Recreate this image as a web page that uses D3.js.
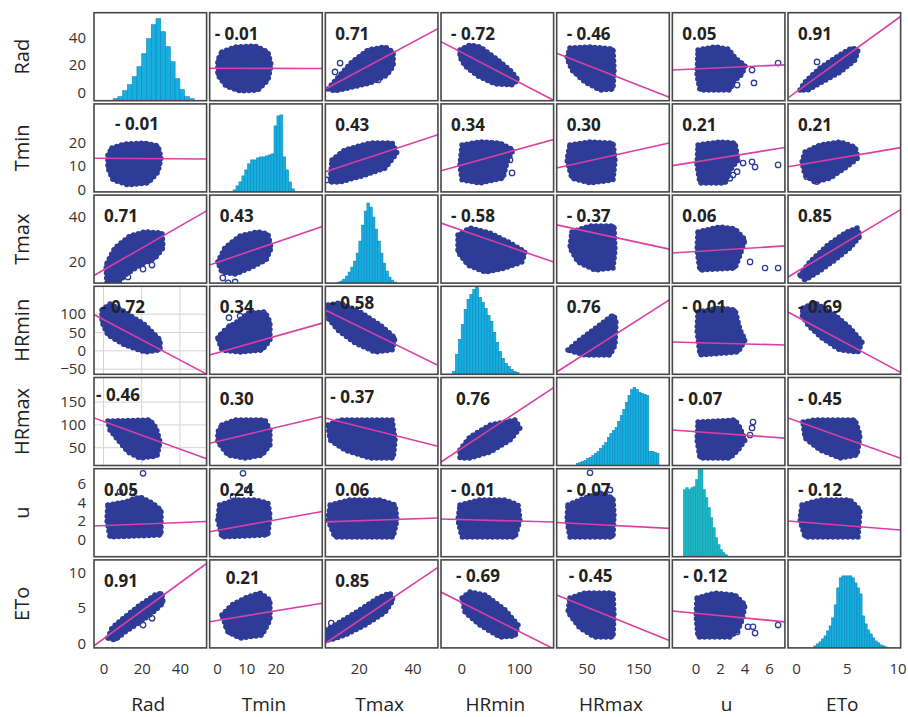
<!DOCTYPE html>
<html>
<head>
<meta charset="utf-8">
<script src="https://cdn.jsdelivr.net/npm/d3@7"></script>
<style>
  body { margin: 0; background: #fff; }
  svg { font-family: "Open Sans", sans-serif; }
</style>
</head>
<body>
<div id="chart"></div>
<script>
// variables of the matrix
var vars = ["Rad", "Tmin", "Tmax", "HRmin", "HRmax", "u", "ETo"];

// axis ranges (columns use x, rows use y)
var xDomains = [[-5, 54], [-2.5, 36], [7.5, 49.5], [-35, 160], [-8, 210], [-1.9, 7.3], [-0.8, 10.3]];
var yDomains = [[-6, 58], [-1, 36.5], [10.5, 49.5], [-64, 176], [11, 204], [-1.8, 7.6], [-0.6, 11.8]];
var xTicks = [[0, 20, 40], [0, 10, 20], [20, 40], [0, 100], [50, 150], [0, 2, 4, 6], [0, 5, 10]];
var yTicks = [[0, 20, 40], [0, 10, 20], [20, 40], [-50, 0, 50, 100], [50, 100, 150], [0, 2, 4, 6], [0, 5, 10]];

// correlation coefficients printed in each panel
var corr = [
    [null, -0.01, 0.71, -0.72, -0.46, 0.05, 0.91],
    [-0.01, null, 0.43, 0.34, 0.30, 0.21, 0.21],
    [0.71, 0.43, null, -0.58, -0.37, 0.06, 0.85],
    [-0.72, 0.34, -0.58, null, 0.76, -0.01, -0.69],
    [-0.46, 0.30, -0.37, 0.76, null, -0.07, -0.45],
    [0.05, 0.24, 0.06, -0.01, -0.07, null, -0.12],
    [0.91, 0.21, 0.85, -0.69, -0.45, -0.12, null]
];

// histograms on the diagonal: first bin edge, bin width, frequencies
var histStart = [5, 5.5, 12, -15, 30, -1.0, 1.75];
var histWidth = [2.5, 1, 1, 5, 5, 0.2, 0.25];
var histRad = [2, 4, 10, 16, 24, 34, 47, 62, 76, 82, 69, 54, 39, 22, 11, 4, 2];
var histTmin = [2, 6, 10, 16, 22, 28, 32, 32, 34, 35, 35, 36, 37, 38, 66, 76, 77, 35, 22, 10, 3];
var histTmax = [1, 2, 4, 7, 11, 16, 22, 30, 42, 58, 72, 80, 76, 66, 54, 42, 30, 20, 12, 6, 3, 1];
var histHRmin = [3, 20, 35, 50, 65, 75, 80, 85, 87, 77, 72, 66, 59, 53, 42, 32, 23, 16, 11, 8, 5, 3, 2];
var histHRmax = [2, 3, 4, 5, 7, 8, 10, 12, 14, 17, 20, 23, 28, 32, 35, 38, 44, 50, 56, 63, 70, 76, 78, 76, 73, 72, 71, 70, 14, 14, 13, 12];
var histU = [67, 69, 67, 69, 70, 77, 87, 87, 67, 59, 49, 39, 29, 19, 12, 7, 4, 2];
var histETo = [2, 4, 6, 9, 12, 17, 22, 30, 43, 60, 70, 72, 72, 72, 72, 70, 65, 60, 54, 32, 24, 18, 14, 10, 7, 5, 3, 2, 1];
var hists = [histRad, histTmin, histTmax, histHRmin, histHRmax, histU, histETo];

// outline of each point cloud (x value, y value), one array per row
var cloudsRad = [null,
    [[1.7, 29.4], [6.2, 33.1], [13.0, 33.8], [17.4, 29.4], [18.5, 20.0], [17.4, 9.1], [14.0, 1.8], [7.9, 1.1], [3.1, 4.7], [0.3, 12.7], [0.3, 23.6]],
    [[8.5, 2.5], [13.0, 12.7], [17.5, 22.2], [23.4, 30.9], [29.8, 33.1], [32.8, 29.4], [32.8, 19.3], [30.5, 12.7], [24.2, 6.9], [17.8, 4.0], [11.1, 1.1]],
    [[-2.1, 30.9], [15.2, 34.5], [32.5, 33.1], [58.5, 25.1], [84.5, 16.3], [98.4, 9.1], [88.0, 5.5], [58.5, 6.2], [29.1, 12.0], [6.6, 19.3], [-2.1, 25.8]],
    [[17.7, 32.3], [56.5, 33.1], [101, 31.6], [103, 16.3], [101, 2.5], [75.8, 1.8], [46.8, 7.6], [21.6, 16.3], [12, 25.1]],
    [[0.2, 30.9], [1.59, 33.1], [2.65, 31.6], [3.22, 25.1], [4.04, 19.3], [3.79, 13.4], [3.06, 7.6], [2.81, 1.8], [0.36, 1.8], [0.12, 12.7]],
    [[0.38, 1.8], [0.88, 7.6], [2.36, 17.8], [4.13, 26.5], [5.51, 32.3], [6.1, 30.9], [5.81, 23.6], [4.33, 14.9], [2.55, 7.6], [1.17, 1.8]]
];
var cloudsTmin = [
    [[4.4, 17.7], [11.2, 19.4], [21.7, 19.8], [28.5, 18.6], [30.1, 13.5], [28.5, 7.5], [23.3, 2.8], [12.8, 2.0], [5.0, 4.1], [2.3, 9.2], [2.3, 14.7]],
    null,
    [[10.0, 12.6], [14.8, 16.9], [24.2, 19.8], [32.4, 19.8], [34.2, 15.6], [29.8, 9.2], [22.3, 6.2], [13.0, 3.2], [9.3, 3.2]],
    [[1.4, 19.0], [32.5, 20.3], [67.2, 19.8], [89.7, 16.9], [79.3, 11.8], [72.4, 4.9], [32.5, 2.8], [1.4, 4.1], [-2.1, 10.5]],
    [[17.7, 19.0], [56.5, 20.3], [101, 19.8], [104.9, 12.6], [101, 4.1], [56.5, 2.8], [21.6, 4.9], [12, 12.6]],
    [[0.2, 19.0], [2.0, 20.3], [3.22, 19.8], [3.47, 12.6], [2.81, 8.3], [2.4, 2.8], [0.36, 2.8], [0.12, 10.5]],
    [[0.88, 16.0], [2.36, 19.0], [4.33, 20.3], [5.81, 18.1], [6.1, 13.5], [4.82, 9.2], [3.34, 4.9], [1.86, 3.2], [0.88, 6.2], [0.58, 11.7]]
];
var cloudsTmax = [
    [[1.8, 10.6], [1.3, 18.5], [6.0, 26.1], [13.9, 31.4], [21.7, 33.2], [30.6, 32.7], [31.2, 26.1], [27.0, 21.6], [19.1, 18.5], [11.2, 14.1], [7.6, 10.6]],
    [[0.3, 19.9], [2.7, 26.1], [7.9, 31.4], [14.0, 33.2], [17.4, 32.3], [18.5, 26.1], [16.8, 20.8], [11.3, 17.2], [6.2, 14.5], [1.7, 15.4]],
    null,
    [[-5.6, 31.8], [15.2, 34.9], [49.9, 32.7], [84.5, 28.3], [110.5, 24.3], [105.3, 19.9], [75.8, 17.2], [41.2, 15.4], [11.8, 18.5], [-5.6, 24.3]],
    [[21.6, 33.2], [56.5, 35.8], [102.9, 35.8], [104.9, 25.2], [101, 17.2], [66.2, 16.3], [33.2, 19.9], [17.7, 26.1]],
    [[0.2, 33.2], [2.0, 35.4], [3.22, 34.5], [4.04, 29.6], [3.63, 23.0], [3.22, 17.2], [0.36, 16.3], [0.12, 25.2]],
    [[0.38, 14.1], [1.37, 19.9], [3.14, 27.4], [4.82, 32.7], [6.0, 34.9], [6.3, 31.4], [5.31, 26.1], [3.83, 20.8], [2.16, 15.4], [0.88, 11.9]]
];
var cloudsHRmin = [
    [[-0.8, 111.4], [3.4, 127.7], [11.2, 105.9], [21.7, 70.5], [29.6, 29.6], [29.6, 2.3], [21.7, -3.1], [11.2, 16.0], [2.3, 43.2], [-0.8, 78.6]],
    [[0.3, 35.0], [2.7, 56.8], [7.9, 84.1], [10.6, 103.2], [16.4, 105.9], [18.1, 78.6], [18.1, 29.6], [15.4, 2.3], [7.9, -3.1], [1.7, 2.3]],
    [[8.5, 125.0], [13.0, 130.5], [20.4, 105.9], [27.9, 70.5], [33.5, 35.0], [32.4, 2.3], [26.0, -3.1], [18.6, 21.4], [12.2, 56.8], [8.5, 89.6]],
    null,
    [[13.9, 2.3], [37.1, 29.6], [75.8, 70.5], [101, 97.7], [106.8, 84.1], [104.9, 16.0], [95.2, -11.3], [46.8, -11.3]],
    [[0.2, 105.9], [2.0, 116.8], [3.22, 111.4], [3.63, 56.8], [4.04, 29.6], [3.47, -3.1], [0.36, -11.3], [0.12, 56.8]],
    [[0.68, 116.8], [1.86, 130.5], [3.83, 97.7], [5.31, 62.3], [6.5, 24.1], [6.1, -3.1], [4.33, 2.3], [2.55, 35.0], [1.17, 70.5], [0.58, 97.7]]
];
var cloudsHRmax = [
    [[2.3, 108.6], [24.3, 110.8], [27.5, 93.3], [29.6, 62.6], [28.0, 31.8], [19.1, 27.4], [12.8, 40.6], [7.6, 67.0], [3.4, 88.9]],
    [[1.7, 99.8], [6.2, 110.8], [16.4, 110.8], [18.1, 88.9], [18.1, 56.0], [15.4, 34.0], [9.6, 27.4], [3.8, 34.0], [0.3, 62.6], [0.3, 84.5]],
    [[8.5, 99.8], [13.0, 110.8], [32.4, 110.8], [33.5, 67.0], [32.8, 27.4], [24.2, 27.4], [14.8, 45.0], [9.3, 67.0]],
    [[-2.1, 45.0], [15.2, 73.5], [49.9, 99.8], [93.2, 110.8], [101.8, 93.3], [84.5, 67.0], [49.9, 40.6], [15.2, 27.4], [-2.1, 27.4]],
    null,
    [[0.2, 106.4], [3.22, 110.8], [3.63, 93.3], [4.04, 67.0], [3.47, 45.0], [2.81, 27.4], [0.36, 27.4], [0.12, 67.0]],
    [[0.68, 106.4], [1.86, 110.8], [5.81, 110.8], [6.3, 77.9], [6.0, 34.0], [4.33, 27.4], [2.36, 45.0], [0.88, 71.3]]
];
var cloudsU = [
    [[2.3, 3.72], [11.2, 4.04], [19.1, 4.58], [25.4, 3.94], [30.1, 3.19], [30.1, 0.52], [3.4, 0.31], [1.8, 2.12]],
    [[0.9, 3.72], [6.2, 4.26], [13.0, 4.26], [17.4, 3.94], [18.1, 2.66], [17.4, 0.52], [1.7, 0.31], [0.3, 2.12]],
    [[9.3, 3.72], [16.7, 4.26], [27.9, 4.26], [33.5, 3.72], [34.2, 2.12], [32.8, 0.31], [11.1, 0.31], [8.5, 2.12]],
    [[-2.1, 3.72], [32.5, 4.26], [75.8, 4.26], [98.4, 3.72], [101.8, 2.12], [93.2, 0.31], [1.4, 0.31], [-5.6, 2.12]],
    [[13.9, 3.72], [46.8, 4.47], [75.8, 5.0], [101, 4.47], [102.9, 2.66], [101, 0.31], [17.7, 0.31], [12, 2.12]],
    null,
    [[0.58, 3.72], [2.36, 4.26], [5.31, 4.26], [6.3, 3.19], [6.1, 0.31], [0.88, 0.31], [0.38, 2.12]]
];
var cloudsETo = [
    [[2.3, 0.79], [4.4, 2.2], [11.2, 3.75], [19.1, 5.44], [27.0, 6.85], [30.6, 7.13], [31.2, 5.72], [25.4, 4.31], [19.1, 3.04], [11.2, 1.63], [6.0, 0.51]],
    [[1.7, 4.03], [5.1, 5.44], [9.6, 6.43], [14.7, 7.13], [18.1, 6.15], [18.1, 3.33], [15.4, 1.21], [7.9, 0.79], [3.8, 1.63]],
    [[7.8, 0.51], [7.8, 1.92], [13.0, 3.04], [20.4, 4.74], [27.2, 6.43], [31.6, 7.13], [32.8, 6.15], [29.8, 4.45], [22.3, 2.62], [14.8, 1.21], [9.3, 0.51]],
    [[1.4, 6.43], [15.2, 7.27], [41.2, 6.85], [75.8, 4.74], [98.4, 2.62], [93.2, 1.07], [67.2, 0.93], [32.5, 2.62], [6.6, 4.45]],
    [[17.7, 6.43], [46.8, 7.13], [101, 7.13], [102.9, 4.03], [101, 0.93], [66.2, 0.93], [37.1, 2.2], [13.9, 4.45]],
    [[0.12, 6.43], [1.59, 7.13], [3.22, 6.85], [4.04, 5.44], [3.79, 3.33], [3.47, 1.92], [2.81, 0.93], [0.2, 0.93], [0.04, 4.03]],
    null
];
var clouds = [cloudsRad, cloudsTmin, cloudsTmax, cloudsHRmin, cloudsHRmax, cloudsU, cloudsETo];

// isolated points outside the clouds, keyed "row-col"
var outliers = {
    "0-2": [[11.1, 14.9], [13.0, 21.4], [27.2, 9.1]],
    "0-5": [[4.61, 16.3], [4.77, 6.9], [6.74, 21.4], [3.39, 5.4]],
    "0-6": [[2.06, 22.2]],
    "1-2": [[8.0, 4.1], [11.1, 4.8]],
    "1-3": [[84.5, 12.6], [88.0, 7.1]],
    "1-5": [[3.88, 11.3], [4.61, 11.8], [4.86, 9.6], [6.74, 10.5], [2.81, 4.8], [3.06, 6.2], [3.39, 7.6]],
    "1-6": [[1.04, 5.5], [2.03, 3.4]],
    "2-0": [[25.4, 18.5], [20.7, 16.7], [12.8, 13.2], [3.4, 13.2]],
    "2-1": [[2.0, 12.8], [3.8, 10.6], [6.2, 11.0]],
    "2-5": [[5.67, 17.2], [6.74, 17.2], [4.45, 19.9]],
    "3-1": [[4.1, 90.4], [7.9, 95.0], [4.4, 65.8], [1.4, 43.2]],
    "4-5": [[4.69, 106.4], [4.61, 93.3], [4.45, 77.9]],
    "5-0": [[20.7, 7.11], [15.4, 5.0], [8.6, 5.14], [25.4, 3.54]],
    "5-1": [[8.9, 7.11], [5.5, 4.61], [4.4, 3.72], [10.3, 5.33]],
    "5-4": [[56.5, 7.17], [95.2, 5.33], [85.5, 4.79]],
    "6-0": [[25.4, 3.57], [20.7, 2.62]],
    "6-1": [[4.4, 1.68], [3.3, 2.4]],
    "6-2": [[9.7, 2.9]],
    "6-5": [[4.28, 2.38], [4.69, 2.38], [4.86, 1.49], [6.74, 2.62], [3.39, 1.64]]
};

// least squares fit in each panel: [intercept, slope]
var fits = [
    [null, [17.6, -0.005], [-5.3, 1.043], [29.25, -0.2186], [27.3, -0.1463], [17.08, 0.409], [0.27, 5.34]],
    [[13.3, -0.005], null, [4.78, 0.376], [10.4, 0.0681], [9.6, 0.0488], [11.8, 0.84], [10.3, 0.734]],
    [[16.3, 0.485], [19.6, 0.444], null, [34.0, -0.0887], [35.9, -0.0492], [24.5, 0.34], [15.35, 2.69]],
    [[85.3, -2.754], [-5.66, 2.256], [138.4, -3.597], null, [-50.5, 0.903], [22.4, -0.9], [94.0, -14.82]],
    [[107.7, -1.52], [63.5, 1.522], [126.2, -1.472], [48.0, 0.8366], null, [85.2, -1.945], [108.8, -7.95]],
    [[1.52, 0.008], [1.01, 0.0559], [1.84, 0.01], [2.17, -0.00165], [1.83, -0.00286], null, [1.95, -0.087]],
    [[0.685, 0.1966], [3.26, 0.0676], [-1.87, 0.255], [5.83, -0.041], [6.62, -0.02935], [4.28, -0.166], null]
];

// panels that show a light grid
var gridPanels = ["3-0", "4-0"];

// where a coefficient label sits away from the usual corner: [dx, dy]
var labelShift = {
    "0-1": [5, 27], "1-0": [21, 26], "3-0": [7, 27], "4-0": [2, 23],
    "3-2": [5, 23], "4-2": [5, 25], "4-3": [15, 27], "6-1": [16, 24],
    "6-3": [15, 22], "6-4": [12, 22], "6-5": [11, 22], "4-5": [6, 27]
};

var left0 = 94, top0 = 12.7, pw = 112.6, ph = 88, pitchX = 115.67, pitchY = 91.2;
var ptColor = "#2e3c98", lineColor = "#d93fa4", histFill = "#17afdf", histStroke = "#0b88c0";

var svg = d3.select("#chart").append("svg")
    .attr("width", 908)
    .attr("height", 717);

var xs = vars.map(function (v, j) {
    var x0 = left0 + j * pitchX;
    return d3.scaleLinear().domain(xDomains[j]).range([x0, x0 + pw]);
});
var ys = vars.map(function (v, i) {
    var y0 = top0 + i * pitchY;
    return d3.scaleLinear().domain(yDomains[i]).range([y0 + ph, y0]);
});

var fmt = d3.format(".2f");
var defs = svg.append("defs");

vars.forEach(function (rv, i) {
    vars.forEach(function (cv, j) {
        var x = xs[j], y = ys[i];
        var px = left0 + j * pitchX, py = top0 + i * pitchY;
        var id = "clip-" + i + "-" + j;
        defs.append("clipPath").attr("id", id)
            .append("rect").attr("x", px).attr("y", py).attr("width", pw).attr("height", ph);

        var g = svg.append("g").attr("clip-path", "url(#" + id + ")");
        var key = i + "-" + j;

        if (gridPanels.indexOf(key) >= 0) {
            g.selectAll("line.gx").data(xTicks[j]).enter().append("line")
                .attr("x1", function (d) { return x(d); }).attr("x2", function (d) { return x(d); })
                .attr("y1", py).attr("y2", py + ph)
                .attr("stroke", "#d4d4d4").attr("stroke-width", 1);
            g.selectAll("line.gy").data(yTicks[i]).enter().append("line")
                .attr("y1", function (d) { return y(d); }).attr("y2", function (d) { return y(d); })
                .attr("x1", px).attr("x2", px + pw)
                .attr("stroke", "#d4d4d4").attr("stroke-width", 1);
        }

        if (i === j) {
            var h = hists[i];
            var hy = d3.scaleLinear().domain([0, 88]).range([py + ph, py]);
            g.selectAll("rect.bar").data(h).enter().append("rect")
                .attr("x", function (d, k) { return x(histStart[i] + k * histWidth[i]); })
                .attr("width", function (d, k) {
                    return x(histStart[i] + (k + 1) * histWidth[i]) - x(histStart[i] + k * histWidth[i]);
                })
                .attr("y", function (d) { return hy(d); })
                .attr("height", function (d) { return hy(0) - hy(d); })
                .attr("fill", i === 5 ? "#1db7c6" : histFill)
                .attr("stroke", i === 5 ? "#12a0b0" : histStroke)
                .attr("stroke-width", 0.6);
        } else {
            var line = d3.line()
                .x(function (d) { return x(d[0]); })
                .y(function (d) { return y(d[1]); })
                .curve(d3.curveLinearClosed);
            var shape = line(clouds[i][j]);
            g.append("path")
                .attr("d", shape)
                .attr("fill", ptColor)
                .attr("stroke", ptColor)
                .attr("stroke-width", 3)
                .attr("stroke-linejoin", "round");
            // ragged rim made of dots, like overlapping markers
            g.append("path")
                .attr("d", shape)
                .attr("fill", "none")
                .attr("stroke", ptColor)
                .attr("stroke-width", 5.5)
                .attr("stroke-linecap", "round")
                .attr("stroke-dasharray", "0 5");

            g.selectAll("circle").data(outliers[key] || []).enter().append("circle")
                .attr("cx", function (d) { return x(d[0]); })
                .attr("cy", function (d) { return y(d[1]); })
                .attr("r", 2.7)
                .attr("fill", "none")
                .attr("stroke", ptColor)
                .attr("stroke-width", 1.3);

            var f = fits[i][j];
            var dx = x.domain();
            g.append("line")
                .attr("x1", x(dx[0])).attr("y1", y(f[0] + f[1] * dx[0]))
                .attr("x2", x(dx[1])).attr("y2", y(f[0] + f[1] * dx[1]))
                .attr("stroke", lineColor)
                .attr("stroke-width", 1.6);

            var c = corr[i][j];
            var sh = labelShift[key] || [10, 27];
            svg.append("text")
                .attr("x", px + sh[0])
                .attr("y", py + sh[1])
                .attr("font-size", 17)
                .attr("font-weight", 700)
                .attr("fill", "#222")
                .text(c < 0 ? "- " + fmt(-c) : fmt(c));
        }

        svg.append("rect")
            .attr("x", px).attr("y", py).attr("width", pw).attr("height", ph)
            .attr("fill", "none")
            .attr("stroke", "#474747")
            .attr("stroke-width", 1.6);
    });
});

// left tick labels
vars.forEach(function (v, i) {
    var ax = svg.append("g")
        .attr("transform", "translate(" + (left0 - 8) + ",0)")
        .call(d3.axisLeft(ys[i]).tickValues(yTicks[i]).tickSize(0).tickPadding(0));
    ax.select(".domain").remove();
    ax.selectAll("text").attr("font-size", 15).attr("fill", "#333")
        .attr("font-family", "Open Sans, sans-serif");

    svg.append("text")
        .attr("transform", "translate(29," + (top0 + i * pitchY + ph / 2) + ") rotate(-90)")
        .attr("text-anchor", "middle")
        .attr("font-size", 20)
        .attr("fill", "#222")
        .text(v);
});

// bottom tick labels
vars.forEach(function (v, j) {
    var ax = svg.append("g")
        .attr("transform", "translate(0,660)")
        .call(d3.axisBottom(xs[j]).tickValues(xTicks[j]).tickSize(0).tickPadding(3));
    ax.select(".domain").remove();
    ax.selectAll("text").attr("font-size", 15).attr("fill", "#333")
        .attr("font-family", "Open Sans, sans-serif");

    svg.append("text")
        .attr("x", left0 + j * pitchX + pw / 2 - 2)
        .attr("y", 711)
        .attr("text-anchor", "middle")
        .attr("font-size", 19)
        .attr("fill", "#222")
        .text(v);
});
</script>
</body>
</html>
